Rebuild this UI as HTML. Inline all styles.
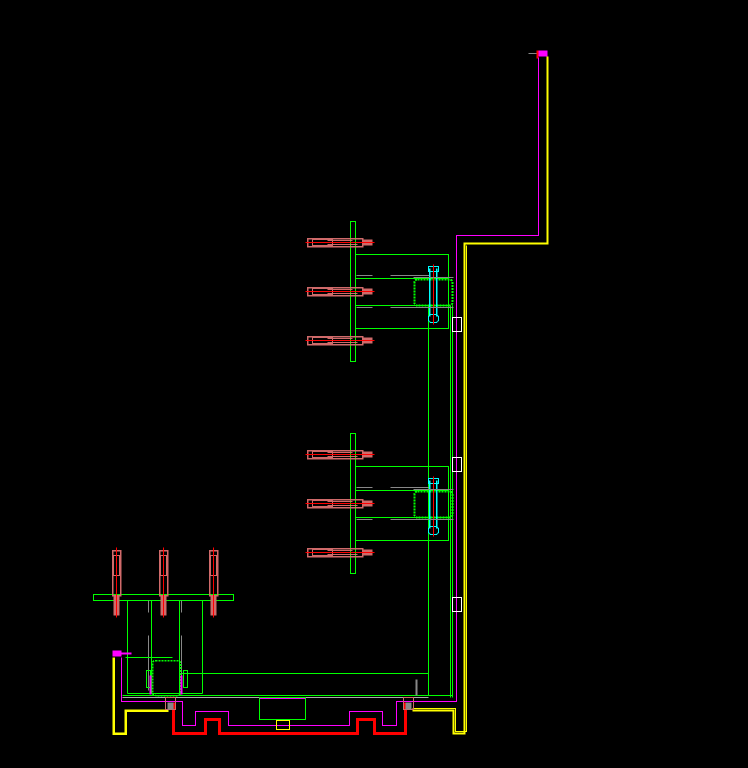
<!DOCTYPE html>
<html><head><meta charset="utf-8"><style>
html,body{margin:0;padding:0;background:#000;width:748px;height:768px;overflow:hidden}
svg{display:block}
</style></head><body>
<svg width="748" height="768" viewBox="0 0 748 768" xmlns="http://www.w3.org/2000/svg" fill="none" shape-rendering="crispEdges">
<defs>
<g id="hb">
 <rect x="0" y="-4" width="55" height="8" stroke="#d06a6a" stroke-width="1.5"/>
 <rect x="5" y="-3" width="20" height="6" stroke="#d06a6a"/>
 <rect x="55" y="-3" width="10" height="6" fill="#d06a6a"/>
 <line x1="-2" y1="0" x2="67" y2="0" stroke="#ff0000"/>
 <line x1="20" y1="-2" x2="45" y2="-2" stroke="#d06a6a"/>
 <line x1="20" y1="2" x2="50" y2="2" stroke="#d06a6a"/>
</g>
<g id="vb">
 <rect x="-4" y="0" width="8" height="45" stroke="#d06a6a" stroke-width="1.5"/>
 <rect x="-3" y="5" width="6" height="20" stroke="#d06a6a"/>
 <rect x="-3" y="45" width="6" height="20" fill="#d06a6a"/>
 <line x1="0" y1="-3" x2="0" y2="67" stroke="#ff0000"/>
</g>
<g id="cb">
 <rect x="-19" y="-13" width="38" height="26" rx="3" stroke="#00ff00" stroke-width="2" stroke-dasharray="2,1"/>
 <line x1="-4" y1="-24" x2="-4" y2="24" stroke="#00ffff" stroke-width="1.5"/>
 <line x1="3" y1="-24" x2="3" y2="24" stroke="#00ffff" stroke-width="1.5"/>
 <rect x="-5" y="-26" width="10" height="5" stroke="#00ffff"/>
 <rect x="-5" y="22" width="10" height="8" rx="3" stroke="#00ffff"/>
 <line x1="0" y1="-28" x2="0" y2="32" stroke="#ff0000"/>
 <line x1="-20" y1="-15" x2="20" y2="-15" stroke="#888"/>
 <line x1="-20" y1="15" x2="20" y2="15" stroke="#888"/>
</g>
</defs>
<g transform="translate(0.5,0.5)">
<!-- top magenta marker -->
<line x1="528" y1="53" x2="545" y2="53" stroke="#888"/>
<rect x="537" y="50" width="10" height="6" fill="#ff00ff"/>
<rect x="536" y="50" width="2" height="8" fill="#ff0000"/>

<polyline points="547,56 547,243 464,243 464,733 453,733 453,710 412,710" stroke="#ffff00" stroke-width="2"/>
<polyline points="466,245 466,731 455,731 455,708 412,708" stroke="#ffff00" stroke-width="1"/>

<polyline points="538,57 538,235 456,235 456,701 396,701 396,725 382,725 382,711 349,711 349,725 228,725 228,711 195,711 195,725 182,725 182,701 121,701 121,657" stroke="#ff00ff" stroke-width="1"/>

<polyline points="173,702 173,733 205,733 205,719 219,719 219,733 357,733 357,719 374,719 374,733 405,733 405,702" stroke="#ff0000" stroke-width="3"/>

<polyline points="113,657 113,733 125,733 125,710 168,710" stroke="#ffff00" stroke-width="2.5"/>

<rect x="350" y="221" width="5" height="140" stroke="#00ff00"/>
<rect x="355" y="254" width="93" height="74" stroke="#00ff00"/>
<line x1="355" y1="278" x2="448" y2="278" stroke="#00ff00"/>
<line x1="355" y1="305" x2="448" y2="305" stroke="#00ff00"/>
<rect x="350" y="433" width="5" height="140" stroke="#00ff00"/>
<rect x="355" y="466" width="93" height="74" stroke="#00ff00"/>
<line x1="355" y1="490" x2="448" y2="490" stroke="#00ff00"/>
<line x1="355" y1="517" x2="448" y2="517" stroke="#00ff00"/>
<line x1="428" y1="305" x2="428" y2="695" stroke="#00ff00"/>
<line x1="450" y1="305" x2="450" y2="697" stroke="#00ff00"/>
<line x1="452" y1="305" x2="452" y2="697" stroke="#00ff00"/>
<line x1="180" y1="673" x2="428" y2="673" stroke="#00ff00"/>
<line x1="122" y1="695" x2="452" y2="695" stroke="#00ff00"/>
<line x1="122" y1="697" x2="428" y2="697" stroke="#aaa"/>
<line x1="416" y1="679" x2="416" y2="695" stroke="#888" stroke-width="2"/>

<g stroke="#888">
<line x1="356" y1="275" x2="372" y2="275"/><line x1="390" y1="275" x2="430" y2="275"/>
<line x1="356" y1="307" x2="372" y2="307"/><line x1="390" y1="307" x2="430" y2="307"/>
<line x1="356" y1="487" x2="372" y2="487"/><line x1="390" y1="487" x2="430" y2="487"/>
<line x1="356" y1="519" x2="372" y2="519"/><line x1="390" y1="519" x2="430" y2="519"/>
</g>

<use href="#hb" x="307" y="242"/>
<use href="#hb" x="307" y="291"/>
<use href="#hb" x="307" y="340"/>
<use href="#hb" x="307" y="454"/>
<use href="#hb" x="307" y="503"/>
<use href="#hb" x="307" y="552"/>

<use href="#cb" x="433" y="292"/>
<use href="#cb" x="433" y="504"/>

<g stroke="#fff">
<rect x="452" y="317" width="9" height="14"/>
<rect x="452" y="457" width="9" height="14"/>
<rect x="452" y="597" width="9" height="14"/>
</g>

<rect x="93" y="594" width="140" height="6" stroke="#00ff00"/>
<g stroke="#00ff00">
<line x1="127" y1="600" x2="127" y2="693"/>
<line x1="151" y1="600" x2="151" y2="693"/>
<line x1="179" y1="600" x2="179" y2="693"/>
<line x1="202" y1="600" x2="202" y2="693"/>
<line x1="127" y1="693" x2="202" y2="693"/>
</g>
<g stroke="#888"><line x1="148" y1="600" x2="148" y2="612"/><line x1="148" y1="635" x2="148" y2="690"/><line x1="181" y1="600" x2="181" y2="612"/><line x1="181" y1="635" x2="181" y2="690"/></g>
<use href="#vb" x="116" y="550"/>
<use href="#vb" x="163" y="550"/>
<use href="#vb" x="213" y="550"/>

<rect x="152" y="660" width="28" height="35" rx="3" stroke="#00ff00" stroke-width="1.5" stroke-dasharray="2,1"/>
<rect x="146" y="670" width="4" height="17" stroke="#00ff00"/>
<rect x="183" y="670" width="4" height="17" stroke="#00ff00"/>
<line x1="150" y1="675" x2="150" y2="694" stroke="#ff00ff" stroke-width="2"/>
<line x1="181" y1="675" x2="181" y2="694" stroke="#ff00ff" stroke-width="2"/>
<polyline points="125,657 172,657" stroke="#00ff00"/>
<rect x="112" y="650" width="9" height="6" fill="#ff00ff"/>
<line x1="121" y1="653" x2="131" y2="653" stroke="#ff00ff" stroke-width="2"/>
<rect x="165" y="697" width="10" height="12" stroke="#d06a6a"/>
<rect x="167" y="702" width="6" height="7" fill="#888"/>
<rect x="403" y="697" width="10" height="12" stroke="#d06a6a"/>
<rect x="405" y="702" width="6" height="7" fill="#888"/>

<rect x="259" y="697" width="46" height="22" stroke="#00ff00"/>
<line x1="259" y1="698" x2="305" y2="698" stroke="#ff00ff"/>
<rect x="276" y="720" width="13" height="9" stroke="#ffff00"/>
</g>
</svg>
</body></html>
